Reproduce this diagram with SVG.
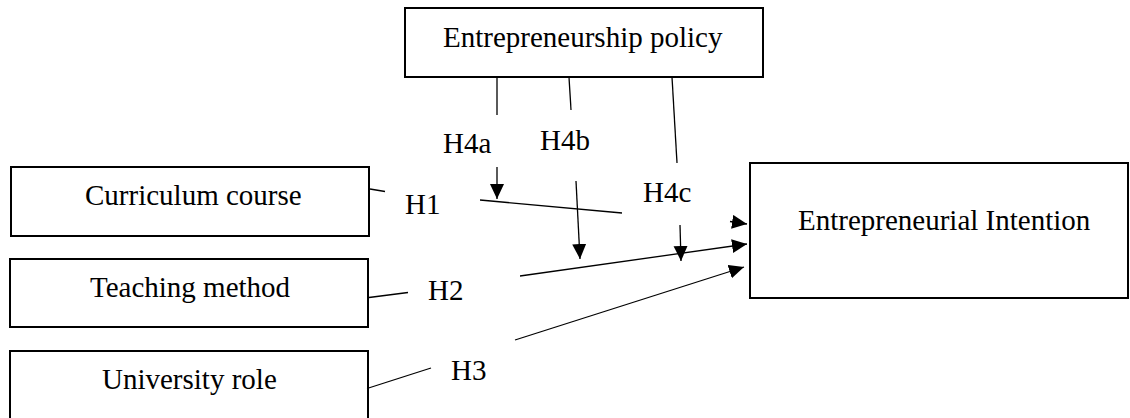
<svg xmlns="http://www.w3.org/2000/svg" width="1130" height="418" viewBox="0 0 1130 418">
<style>
.box{fill:#fff;stroke:#000;stroke-width:2}
.t{font-family:"Liberation Serif","Times New Roman",serif;font-size:29px;fill:#000}
.ln{stroke:#000;stroke-width:1.3;fill:none}
</style>
<defs>
<marker id="ah" markerUnits="userSpaceOnUse" markerWidth="16" markerHeight="15" refX="15" refY="7" orient="auto">
<path d="M0,0 L15,7 L0,14 z" fill="#000"/>
</marker>
</defs>
<rect width="1130" height="418" fill="#fff"/>
<g id="policy"><rect class="box" x="405" y="8" width="358" height="69"/><text class="t" x="443" y="47">Entrepreneurship policy</text></g>
<g id="curriculum"><rect class="box" x="11" y="167" width="358" height="69"/><text class="t" x="85" y="205">Curriculum course</text></g>
<g id="teaching"><rect class="box" x="10" y="259" width="358" height="68"/><text class="t" x="90" y="297">Teaching method</text></g>
<g id="university"><rect class="box" x="10" y="351" width="358" height="80"/><text class="t" x="102" y="389">University role</text></g>
<g id="intention"><rect class="box" x="750" y="163" width="378" height="135"/><text class="t" x="798" y="230">Entrepreneurial Intention</text></g>
<g id="connectors">
<line class="ln" x1="497" y1="77" x2="497" y2="115"/>
<line class="ln" x1="569" y1="77" x2="571" y2="110"/>
<line class="ln" x1="672" y1="77" x2="677" y2="163"/>
<line class="ln" x1="497" y1="167" x2="497" y2="199" marker-end="url(#ah)"/>
<line class="ln" x1="576" y1="181" x2="580" y2="259" marker-end="url(#ah)"/>
<line class="ln" x1="680" y1="225" x2="681" y2="261" marker-end="url(#ah)"/>
<line class="ln" x1="370" y1="189" x2="385" y2="191.5"/>
<line class="ln" x1="480" y1="200" x2="622" y2="213"/>
<line class="ln" x1="730" y1="221.5" x2="747" y2="224" marker-end="url(#ah)"/>
<line class="ln" x1="369" y1="297.5" x2="408" y2="292.5"/>
<line class="ln" x1="520" y1="276" x2="747" y2="244" marker-end="url(#ah)"/>
<line class="ln" x1="367" y1="388.5" x2="431" y2="368"/>
<line class="ln" x1="515" y1="340" x2="744" y2="267" marker-end="url(#ah)"/>
</g>
<g id="labels">
<text class="t" x="443" y="153">H4a</text>
<text class="t" x="540" y="150">H4b</text>
<text class="t" x="643" y="202">H4c</text>
<text class="t" x="405" y="214">H1</text>
<text class="t" x="428" y="300">H2</text>
<text class="t" x="451" y="380">H3</text>
</g>
</svg>
